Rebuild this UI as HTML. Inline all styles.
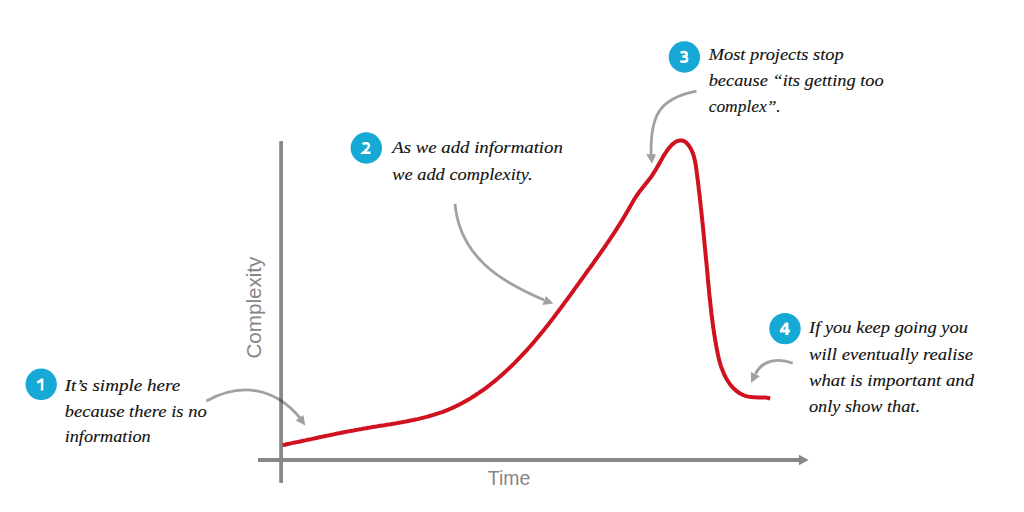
<!DOCTYPE html>
<html><head><meta charset="utf-8"><style>
html,body{margin:0;padding:0;background:#fff;width:1024px;height:512px;overflow:hidden}
svg{display:block}
.ax{font-family:"Liberation Sans",sans-serif}
.hw{font-family:"Liberation Serif",serif;font-style:italic;font-size:17px;fill:#111;stroke:#111;stroke-width:0.12px}
</style></head><body>
<svg width="1024" height="512" viewBox="0 0 1024 512">
<line x1="281.1" y1="141" x2="281.1" y2="483" stroke="#888" stroke-width="3.8"/>
<line x1="258" y1="460" x2="800" y2="460" stroke="#888" stroke-width="3.8"/>
<polygon points="798.9,454.8 808.7,460 798.9,465.2" fill="#888"/>
<text x="487.8" y="484.9" font-size="19.5" fill="#858585" class="ax" textLength="42.4" lengthAdjust="spacingAndGlyphs">Time</text>
<text transform="translate(261.4,358.6) rotate(-90)" font-size="19.5" fill="#858585" class="ax" textLength="102" lengthAdjust="spacingAndGlyphs">Complexity</text>
<path d="M282.7,445.1 L284.7,444.7 L286.8,444.2 L288.8,443.8 L290.9,443.4 L292.9,442.9 L295.0,442.5 L297.0,442.1 L299.1,441.7 L301.1,441.2 L303.1,440.8 L305.2,440.4 L307.2,439.9 L309.2,439.5 L311.3,439.1 L313.3,438.6 L315.3,438.2 L317.3,437.8 L319.4,437.3 L321.4,436.9 L323.4,436.5 L325.4,436.0 L327.4,435.6 L329.5,435.2 L331.5,434.8 L333.5,434.4 L335.5,433.9 L337.6,433.5 L339.6,433.1 L341.6,432.7 L343.6,432.3 L345.7,431.9 L347.7,431.5 L349.7,431.1 L351.8,430.7 L353.8,430.4 L355.8,430.0 L357.9,429.6 L359.9,429.2 L362.0,428.9 L364.0,428.5 L366.1,428.2 L368.1,427.8 L370.2,427.5 L372.3,427.1 L374.3,426.8 L376.4,426.5 L378.5,426.1 L380.5,425.8 L382.6,425.5 L384.7,425.2 L386.7,424.8 L388.8,424.5 L390.9,424.2 L392.9,423.8 L395.0,423.5 L397.1,423.1 L399.1,422.8 L401.2,422.4 L403.2,422.0 L405.3,421.6 L407.3,421.2 L409.4,420.8 L411.4,420.4 L413.5,420.0 L415.5,419.5 L417.5,419.1 L419.6,418.6 L421.6,418.1 L423.6,417.6 L425.6,417.1 L427.6,416.6 L429.6,416.0 L431.6,415.4 L433.6,414.9 L435.5,414.2 L437.5,413.6 L439.5,412.9 L441.4,412.3 L443.4,411.6 L445.3,410.8 L447.2,410.1 L449.1,409.3 L451.0,408.5 L452.9,407.6 L454.8,406.8 L456.6,405.9 L458.5,405.0 L460.3,404.0 L462.2,403.1 L464.0,402.1 L465.8,401.1 L467.6,400.0 L469.4,399.0 L471.2,397.9 L472.9,396.8 L474.7,395.7 L476.4,394.5 L478.2,393.4 L479.9,392.2 L481.6,391.0 L483.3,389.8 L485.0,388.6 L486.7,387.3 L488.3,386.1 L490.0,384.8 L491.6,383.5 L493.3,382.2 L494.9,380.9 L496.5,379.5 L498.1,378.2 L499.7,376.8 L501.2,375.5 L502.8,374.1 L504.3,372.7 L505.9,371.3 L507.4,369.9 L508.9,368.4 L510.4,367.0 L511.9,365.6 L513.4,364.1 L514.9,362.7 L516.3,361.2 L517.8,359.7 L519.2,358.2 L520.7,356.7 L522.1,355.2 L523.5,353.7 L524.9,352.2 L526.3,350.6 L527.7,349.1 L529.1,347.5 L530.5,346.0 L531.8,344.4 L533.2,342.9 L534.5,341.3 L535.9,339.7 L537.2,338.1 L538.5,336.5 L539.9,334.9 L541.2,333.3 L542.5,331.7 L543.8,330.1 L545.1,328.4 L546.4,326.8 L547.7,325.2 L549.0,323.5 L550.2,321.9 L551.5,320.3 L552.8,318.6 L554.0,316.9 L555.3,315.3 L556.5,313.6 L557.8,312.0 L559.0,310.3 L560.3,308.6 L561.5,307.0 L562.8,305.3 L564.0,303.6 L565.2,301.9 L566.5,300.2 L567.7,298.6 L568.9,296.9 L570.2,295.2 L571.4,293.5 L572.6,291.8 L573.8,290.1 L575.0,288.4 L576.3,286.7 L577.5,285.0 L578.7,283.4 L579.9,281.7 L581.1,280.0 L582.4,278.3 L583.6,276.6 L584.8,274.9 L586.0,273.2 L587.2,271.5 L588.4,269.8 L589.7,268.2 L590.9,266.5 L592.1,264.8 L593.3,263.1 L594.5,261.4 L595.7,259.7 L596.9,258.0 L598.1,256.3 L599.3,254.6 L600.5,252.9 L601.7,251.2 L602.9,249.5 L604.1,247.8 L605.2,246.1 L606.4,244.4 L607.6,242.7 L608.7,241.0 L609.9,239.3 L611.0,237.5 L612.2,235.8 L613.3,234.1 L614.5,232.3 L615.6,230.6 L616.7,228.9 L617.8,227.1 L619.0,225.4 L620.1,223.6 L621.1,221.8 L622.2,220.1 L623.3,218.3 L624.4,216.5 L625.4,214.7 L626.5,212.9 L627.5,211.1 L628.6,209.3 L629.6,207.5 L630.6,205.7 L631.7,203.9 L632.7,202.1 L633.7,200.3 L634.8,198.5 L635.9,196.8 L637.1,195.0 L638.3,193.3 L639.5,191.6 L640.8,190.0 L642.1,188.3 L643.4,186.7 L644.7,185.1 L646.0,183.4 L647.3,181.8 L648.6,180.1 L649.9,178.5 L651.1,176.8 L652.3,175.1 L653.4,173.4 L654.5,171.7 L655.6,169.9 L656.6,168.2 L657.6,166.4 L658.7,164.6 L659.7,162.8 L660.7,161.0 L661.7,159.2 L662.7,157.4 L663.8,155.6 L664.9,153.8 L666.1,152.1 L667.3,150.3 L668.6,148.6 L670.0,146.9 L671.4,145.3 L673.0,143.8 L674.7,142.5 L676.5,141.4 L678.5,140.7 L680.4,140.4 L682.2,140.5 L683.9,141.1 L685.5,142.0 L686.9,143.3 L688.3,144.8 L689.5,146.5 L690.6,148.4 L691.6,150.4 L692.5,152.4 L693.2,154.4 L693.9,156.5 L694.4,158.5 L694.9,160.6 L695.3,162.6 L695.7,164.6 L696.0,166.7 L696.3,168.7 L696.6,170.8 L696.8,172.8 L697.1,174.9 L697.3,176.9 L697.6,179.0 L697.9,181.0 L698.1,183.1 L698.4,185.1 L698.6,187.2 L698.8,189.2 L699.1,191.3 L699.3,193.4 L699.6,195.4 L699.8,197.5 L700.0,199.5 L700.3,201.6 L700.5,203.7 L700.7,205.7 L700.9,207.8 L701.2,209.9 L701.4,211.9 L701.6,214.0 L701.8,216.1 L702.0,218.1 L702.2,220.2 L702.5,222.3 L702.7,224.4 L702.9,226.4 L703.1,228.5 L703.3,230.6 L703.5,232.6 L703.7,234.7 L703.9,236.8 L704.1,238.9 L704.3,240.9 L704.5,243.0 L704.7,245.1 L704.9,247.1 L705.1,249.2 L705.3,251.3 L705.5,253.4 L705.7,255.4 L705.9,257.5 L706.1,259.6 L706.3,261.7 L706.5,263.7 L706.7,265.8 L706.9,267.9 L707.1,269.9 L707.3,272.0 L707.5,274.1 L707.7,276.1 L707.8,278.2 L708.0,280.3 L708.2,282.3 L708.4,284.4 L708.6,286.5 L708.8,288.5 L709.0,290.6 L709.2,292.7 L709.4,294.7 L709.6,296.8 L709.8,298.9 L710.1,300.9 L710.3,303.0 L710.5,305.0 L710.7,307.1 L711.0,309.2 L711.2,311.2 L711.4,313.3 L711.7,315.3 L711.9,317.4 L712.2,319.5 L712.5,321.5 L712.7,323.6 L713.0,325.7 L713.3,327.7 L713.6,329.8 L713.9,331.9 L714.2,333.9 L714.6,336.0 L714.9,338.1 L715.2,340.1 L715.6,342.2 L715.9,344.2 L716.3,346.3 L716.7,348.3 L717.1,350.3 L717.5,352.4 L717.9,354.4 L718.3,356.4 L718.8,358.4 L719.3,360.4 L719.8,362.4 L720.4,364.4 L721.0,366.3 L721.7,368.3 L722.5,370.2 L723.2,372.2 L724.1,374.1 L725.0,376.0 L726.0,377.9 L727.0,379.7 L728.2,381.5 L729.4,383.3 L730.6,385.0 L732.0,386.6 L733.4,388.1 L734.9,389.6 L736.4,390.9 L738.1,392.2 L739.8,393.3 L741.6,394.2 L743.5,395.1 L745.4,395.8 L747.4,396.4 L749.5,396.8 L751.5,397.1 L753.6,397.3 L755.7,397.3 L757.8,397.4 L759.9,397.4 L762.0,397.4 L764.1,397.5 L766.1,397.6 L768.2,398.0 L770.2,398.5" fill="none" stroke="#d0121f" stroke-width="4.0" stroke-linejoin="round"/>
<g opacity="0.46"><path d="M206.4,401.0 C240.9,382.0 274.6,387.5 300.0,418.0" fill="none" stroke="#323232" stroke-width="2.8"/><polygon points="305.3,425.4 295.6,420.6 303.4,414.9" fill="#323232"/></g>
<g opacity="0.46"><path d="M455.0,203.8 C459.8,256.2 500.2,281.7 544.0,300.0" fill="none" stroke="#323232" stroke-width="2.8"/><polygon points="553.4,303.5 542.4,305.0 545.9,295.9" fill="#323232"/></g>
<g opacity="0.46"><path d="M696.5,91.1 C657.2,98.5 650.3,118.1 651.1,155.0" fill="none" stroke="#323232" stroke-width="2.8"/><polygon points="652.0,163.8 646.2,154.3 656.1,154.3" fill="#323232"/></g>
<g opacity="0.46"><path d="M792.7,363.1 C779.0,358.1 762.6,359.4 755.5,373.8" fill="none" stroke="#323232" stroke-width="2.8"/><polygon points="751.1,382.8 750.9,371.9 759.8,376.2" fill="#323232"/></g>
<circle cx="41.2" cy="384.3" r="15.7" fill="#16a9d6"/>
<path transform="translate(37,378.6)" d="M0.3,4.2 L5.1,1.0 M5.1,0 V11.9" fill="none" stroke="#fff" stroke-width="2.5" stroke-linejoin="miter" stroke-linecap="butt"/>
<text x="64.7" y="391.0" textLength="115.5" lengthAdjust="spacingAndGlyphs" class="hw">It’s simple here</text>
<text x="64.7" y="416.7" textLength="142.0" lengthAdjust="spacingAndGlyphs" class="hw">because there is no</text>
<text x="64.7" y="442.4" textLength="86.0" lengthAdjust="spacingAndGlyphs" class="hw">information</text>
<circle cx="366.3" cy="148.0" r="15.7" fill="#16a9d6"/>
<path transform="translate(361.8,141.9)" d="M0.9,2.3 C2,1.5 3.1,1.3 4.2,1.3 C6.2,1.3 7.2,2.4 7.2,3.9 C7.2,5.6 6.1,6.6 4.3,8.2 L1.4,10.9 L8.7,10.9" fill="none" stroke="#fff" stroke-width="2.5" stroke-linejoin="miter" stroke-linecap="butt"/>
<text x="392.2" y="153.1" textLength="170.7" lengthAdjust="spacingAndGlyphs" class="hw">As we add information</text>
<text x="392.2" y="179.6" textLength="140.4" lengthAdjust="spacingAndGlyphs" class="hw">we add complexity.</text>
<circle cx="684.4" cy="57.0" r="15.7" fill="#16a9d6"/>
<path transform="translate(679.8,50.6)" d="M0.8,2.0 C1.8,1.5 2.9,1.3 4.0,1.3 C5.9,1.3 7.0,2.2 7.0,3.6 C7.0,5.1 5.8,6.0 3.8,6.0 L2.6,6.0 M3.6,6.0 C6.0,6.0 7.4,7.0 7.4,8.6 C7.4,10.3 6.0,11.2 3.9,11.2 C2.6,11.2 1.5,11.0 0.5,10.5" fill="none" stroke="#fff" stroke-width="2.5" stroke-linejoin="miter" stroke-linecap="butt"/>
<text x="708.7" y="59.6" textLength="135.0" lengthAdjust="spacingAndGlyphs" class="hw">Most projects stop</text>
<text x="708.7" y="85.9" textLength="175.0" lengthAdjust="spacingAndGlyphs" class="hw">because “its getting too</text>
<text x="708.7" y="112.2" textLength="72.0" lengthAdjust="spacingAndGlyphs" class="hw">complex”.</text>
<circle cx="785.0" cy="328.6" r="15.7" fill="#16a9d6"/>
<path fill="#fff" fill-rule="evenodd" d="M785.4,322.4 L788.4,322.4 L788.4,329.6 L790,329.6 L790,332.4 L788.4,332.4 L788.4,334.9 L785.4,334.9 L785.4,332.4 L779.9,332.4 L779.9,329.9 Z M782.9,329.6 L785.4,329.6 L785.4,326.1 Z"/>
<text x="809.0" y="333.2" textLength="159.0" lengthAdjust="spacingAndGlyphs" class="hw">If you keep going you</text>
<text x="809.0" y="359.5" textLength="164.0" lengthAdjust="spacingAndGlyphs" class="hw">will eventually realise</text>
<text x="809.0" y="385.8" textLength="165.0" lengthAdjust="spacingAndGlyphs" class="hw">what is important and</text>
<text x="809.0" y="412.1" textLength="111.0" lengthAdjust="spacingAndGlyphs" class="hw">only show that.</text>
</svg>
</body></html>
